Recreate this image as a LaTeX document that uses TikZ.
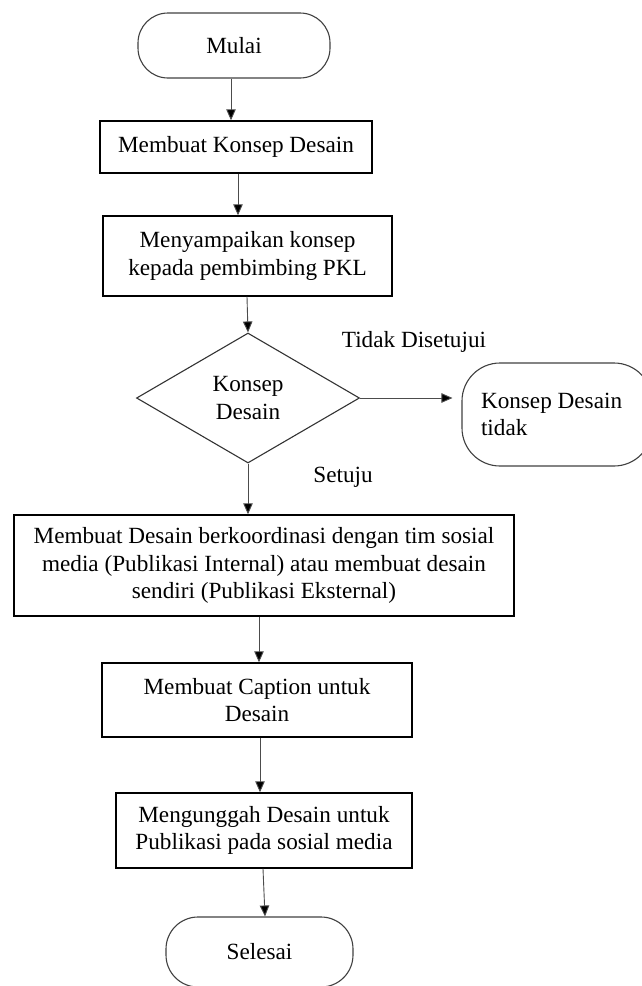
\documentclass[tikz,border=0pt]{standalone}
\usepackage{fontspec}
\setmainfont{Liberation Serif}
\usetikzlibrary{shapes.geometric,arrows.meta}
\begin{document}
\begin{tikzpicture}[x=1pt,y=-1pt,
  every node/.style={font=\fontsize{23.2}{27.5}\selectfont, inner sep=0pt},
  procbox/.style={draw=black, line width=1.4pt, rectangle, align=center},
  term/.style={draw=black!75, line width=1.1pt, rectangle, align=center},
  decis/.style={draw=black!80, line width=1.1pt, diamond, aspect=1.7, align=center},
  arr/.style={draw=black!70, line width=0.9pt, -{Triangle[length=11pt,width=9.5pt,fill=black]}},
  lbl/.style={align=center}]
\useasboundingbox (0,0) rectangle (642,986);
\node[term, rounded corners=30pt, minimum width=192pt, minimum height=65pt] (mulai) at (234,45.5) {Mulai};
\node[procbox, minimum width=272pt, minimum height=52pt] (b1) at (236,147) {Membuat Konsep Desain};
\node[procbox, minimum width=289pt, minimum height=80pt] (b2) at (247.5,256) {Menyampaikan konsep\\kepada pembimbing PKL};
\node[decis, minimum width=223pt, minimum height=130pt] (dia) at (248,398) {Konsep\\Desain};
\node[term, rounded corners=38pt, minimum width=190pt, minimum height=103pt, text width=152pt, align=flush left] (tidak) at (557,414.5) {Konsep Desain\\tidak};
\node[procbox, minimum width=500pt, minimum height=101pt] (b3) at (264,565.5) {Membuat Desain berkoordinasi dengan tim sosial\\media (Publikasi Internal) atau membuat desain\\sendiri (Publikasi Eksternal)};
\node[procbox, minimum width=310pt, minimum height=74pt] (b4) at (257,700) {Membuat Caption untuk\\Desain};
\node[procbox, minimum width=296pt, minimum height=75pt] (b5) at (264,830.5) {Mengunggah Desain untuk\\Publikasi pada sosial media};
\node[term, rounded corners=32pt, minimum width=187pt, minimum height=70pt] (selesai) at (259.5,952) {Selesai};
\node[lbl] (ltidak) at (414,342) {Tidak Disetujui};
\node[lbl] (lsetuju) at (343,477) {Setuju};
\draw[arr] (231,0 |- mulai.south) -- (231,0 |- b1.north);
\draw[arr] (238,0 |- b1.south) -- (238,0 |- b2.north);
\draw[arr] (247,0 |- b2.south) -- (dia.north);
\draw[arr, shorten >=9pt] (dia.east) -- (dia.east -| tidak.west);
\draw[arr] (dia.south) -- (248,0 |- b3.north);
\draw[arr] (259,0 |- b3.south) -- (259,0 |- b4.north);
\draw[arr] (260,0 |- b4.south) -- (260,0 |- b5.north);
\draw[arr] (263,0 |- b5.south) -- (265,0 |- selesai.north);
\end{tikzpicture}
\end{document}
